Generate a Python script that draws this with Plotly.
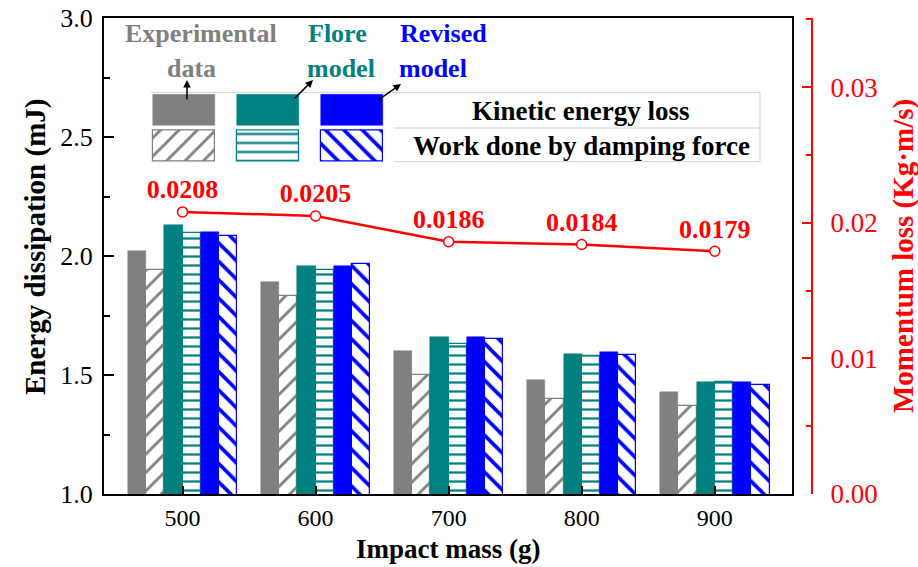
import plotly.graph_objects as go

# ---------------- data ----------------
masses = [500, 600, 700, 800, 900]
mass_labels = ["500", "600", "700", "800", "900"]
exp_kinetic = [2.02, 1.89, 1.60, 1.48, 1.43]
exp_damping = [1.94, 1.83, 1.50, 1.40, 1.37]
flore_kinetic = [2.13, 1.96, 1.66, 1.59, 1.47]
flore_damping = [2.095, 1.94, 1.63, 1.58, 1.47]
revised_kinetic = [2.10, 1.96, 1.66, 1.595, 1.47]
revised_damping = [2.085, 1.965, 1.65, 1.585, 1.46]
momentum_loss = [0.0208, 0.0205, 0.0186, 0.0184, 0.0179]

GREY = "#808080"
TEAL = "#008080"
BLUE = "#0000ff"
RED = "#ff0000"
FONT = "Liberation Serif"

# layout geometry (pixels)
W, H = 918, 567
L, R, T, B = 104, 106, 18, 73
PW = W - L - R
PH = H - T - B


def fx(px):
    return (px - L) / PW


def fy(py):
    return (H - B - py) / PH


bar_w = 13.7
series = [
    (exp_kinetic, GREY, None),
    (exp_damping, GREY, "/"),
    (flore_kinetic, TEAL, None),
    (flore_damping, TEAL, "-"),
    (revised_kinetic, BLUE, None),
    (revised_damping, BLUE, "\\"),
]
pat_size = {"/": 13, "-": 9, "\\": 13}
pat_sol = {"/": 0.22, "-": 0.25, "\\": 0.28}

fig = go.Figure()
for i, (vals, col, pat) in enumerate(series):
    off = (i - 2.5) * bar_w
    xs = [m + off for m in masses]
    if pat is None:
        marker = dict(color=col, line=dict(color=col, width=0.5))
    else:
        marker = dict(
            color="white",
            line=dict(color=col, width=1.2),
            pattern=dict(shape=pat, fgcolor=col, bgcolor="white",
                         fillmode="overlay", fgopacity=1, size=pat_size[pat],
                         solidity=pat_sol[pat]),
        )
    fig.add_trace(go.Bar(x=xs, y=vals, width=bar_w, marker=marker,
                         showlegend=False, xaxis="x", yaxis="y"))

fig.add_trace(go.Scatter(
    x=masses, y=momentum_loss, mode="lines+markers+text",
    line=dict(color=RED, width=2.5),
    marker=dict(symbol="circle", size=10, color="white",
                line=dict(color=RED, width=1.5)),
    text=[f"<b>{v:.4f}</b>" for v in momentum_loss],
    textposition="top center",
    textfont=dict(family=FONT, size=26, color=RED),
    showlegend=False, xaxis="x", yaxis="y2",
))

# legend swatches drawn on a small helper axis
leg_cols = [GREY, TEAL, BLUE]
leg_pats = ["/", "-", "\\"]
fig.add_trace(go.Bar(
    x=[0, 1, 2], y=[0.9, 0.9, 0.9], base=[1.06, 1.06, 1.06], width=0.745,
    marker=dict(color=leg_cols, line=dict(color=leg_cols, width=0.5)),
    showlegend=False, xaxis="x3", yaxis="y3", hoverinfo="skip",
))
fig.add_trace(go.Bar(
    x=[0, 1, 2], y=[0.9, 0.9, 0.9], base=[0.04, 0.04, 0.04], width=0.745,
    marker=dict(color="white", line=dict(color=leg_cols, width=1.2),
                pattern=dict(shape=leg_pats, fgcolor=leg_cols, bgcolor="white",
                             fillmode="overlay", fgopacity=1,
                             size=[pat_size[p] for p in leg_pats],
                             solidity=[pat_sol[p] for p in leg_pats])),
    showlegend=False, xaxis="x3", yaxis="y3", hoverinfo="skip",
))

axis_font = dict(family=FONT, size=24, color="black")

fig.update_layout(
    width=W, height=H,
    margin=dict(l=L, r=R, t=T, b=B, pad=0, autoexpand=False),
    paper_bgcolor="white", plot_bgcolor="white",
    barmode="overlay", bargap=0,
    font=dict(family=FONT),
    xaxis=dict(
        domain=[0, fx(792)], range=[441, 958], automargin=False,
        tickvals=masses, ticktext=mass_labels,
        ticks="inside", ticklen=8, tickwidth=2, tickcolor="black",
        showline=True, linecolor="black", linewidth=2, mirror=True,
        showgrid=False, zeroline=False, tickfont=axis_font,
        ticklabelstandoff=1,
    ),
    yaxis=dict(
        range=[1, 3], dtick=0.5, tickformat=".1f", automargin=False,
        ticks="inside", ticklen=10, tickwidth=2, tickcolor="black",
        minor=dict(dtick=0.25, ticks="inside", ticklen=6, tickwidth=2, tickcolor="black"),
        showline=True, linecolor="black", linewidth=2, mirror=True,
        showgrid=False, zeroline=False, tickfont=dict(family=FONT, size=26, color="black"),
        ticklabelstandoff=4,
    ),
    yaxis2=dict(
        overlaying="y", side="right", anchor="free", position=1.0, automargin=False,
        range=[0, 0.0351], tickvals=[0, 0.01, 0.02, 0.03],
        ticktext=["0.00", "0.01", "0.02", "0.03"],
        ticks="inside", ticklen=9, tickwidth=2, tickcolor=RED,
        minor=dict(dtick=0.005, ticks="inside", ticklen=5, tickwidth=2, tickcolor=RED),
        showline=True, linecolor=RED, linewidth=2,
        showgrid=False, zeroline=False,
        tickfont=dict(family=FONT, size=27, color=RED),
        ticklabelstandoff=12,
    ),
    xaxis3=dict(domain=[fx(142), fx(394)], range=[-0.5, 2.5], visible=False,
                anchor="y3", fixedrange=True),
    yaxis3=dict(domain=[fy(162.5), fy(93.5)], range=[0, 2], visible=False,
                anchor="x3", fixedrange=True),
)

# legend box
fig.add_shape(type="rect", xref="paper", yref="paper",
              x0=fx(151.7), x1=fx(760), y0=fy(161.7), y1=fy(92.3),
              line=dict(color="#d0d0d0", width=1), layer="below")
fig.add_shape(type="line", xref="paper", yref="paper",
              x0=fx(151.7), x1=fx(760), y0=fy(128), y1=fy(128),
              line=dict(color="#d0d0d0", width=1), layer="below")


def label(text, x, y, color, size=26, angle=0):
    fig.add_annotation(text=f"<b>{text}</b>", x=fx(x), y=fy(y),
                       xref="paper", yref="paper", showarrow=False,
                       xanchor="center", yanchor="middle", textangle=angle,
                       font=dict(family=FONT, size=size, color=color))


# axis titles
label("Impact mass (g)", 448, 549, "black", 27)
label("Energy dissipation (mJ)", 36, 247, "black", 29, -90)
label("Momentum loss (Kg·m/s)", 903, 256, RED, 29, -90)

# legend headers and row labels
label("Experimental", 201, 33, GREY)
label("data", 191, 69, GREY)
label("Flore", 337, 33, TEAL)
label("model", 341, 69, TEAL)
label("Revised", 443, 33, BLUE)
label("model", 433, 69, BLUE)
label("Kinetic energy loss", 580, 111, "black", 27)
label("Work done by damping force", 581, 146, "black", 27)


def arrow(tail, head):
    fig.add_annotation(text="", x=fx(head[0]), y=fy(head[1]),
                       xref="paper", yref="paper", showarrow=True,
                       ax=tail[0] - head[0], ay=tail[1] - head[1],
                       arrowhead=2, arrowsize=1, arrowwidth=1.5,
                       arrowcolor="black", standoff=0, startstandoff=0)


arrow((187, 101), (187, 80))
arrow((293, 100), (313, 80))
arrow((377, 101), (401, 84))

fig.write_html("out.html")
